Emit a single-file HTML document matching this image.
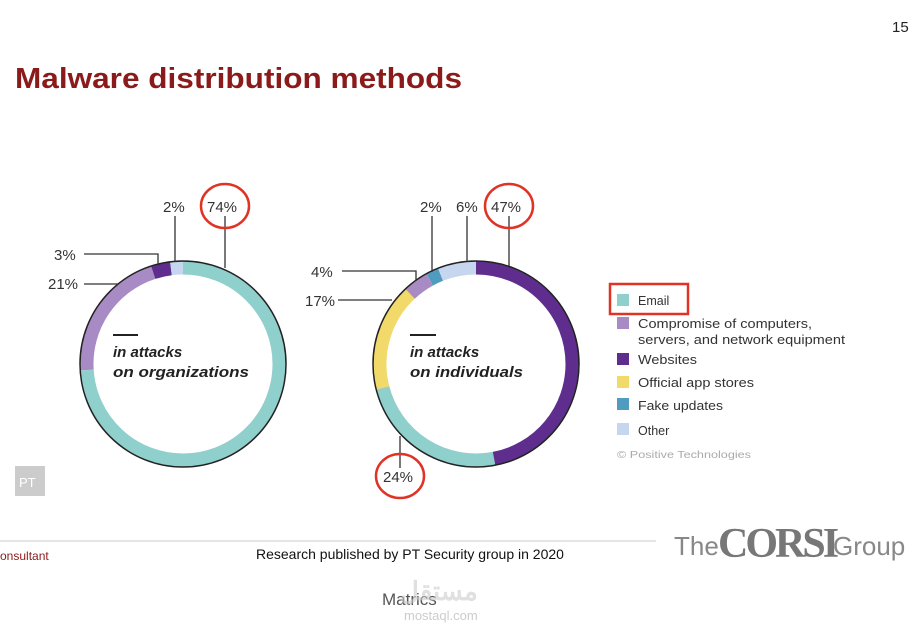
<!DOCTYPE html>
<html><head><meta charset="utf-8"><style>
body{margin:0;width:916px;height:639px;background:#fff;overflow:hidden;font-family:"Liberation Sans",sans-serif;}
</style></head><body>
<svg width="916" height="639" viewBox="0 0 916 639" xmlns="http://www.w3.org/2000/svg" font-family="Liberation Sans, sans-serif">
<text x="892" y="32" font-size="15" fill="#222">15</text>
<text x="15" y="88" font-size="29" font-weight="bold" fill="#8b1a1a" textLength="447" lengthAdjust="spacingAndGlyphs">Malware distribution methods</text>

<!-- org donut -->
<g fill="none" stroke-width="13">
<circle cx="183" cy="364" r="96" stroke="#8fcfcc" stroke-dasharray="446.1 1000" transform="rotate(-90 183 364)"/>
<circle cx="183" cy="364" r="96" stroke="#a88bc4" stroke-dasharray="126.7 1000" transform="rotate(176.4 183 364)"/>
<circle cx="183" cy="364" r="96" stroke="#5e2d8e" stroke-dasharray="18.1 1000" transform="rotate(252 183 364)"/>
<circle cx="183" cy="364" r="96" stroke="#c5d6ee" stroke-dasharray="12.1 1000" transform="rotate(262.8 183 364)"/>
</g>
<circle cx="183" cy="364" r="103" fill="none" stroke="#222" stroke-width="1.5"/>
<!-- ind donut -->
<g fill="none" stroke-width="13">
<circle cx="476" cy="364" r="96" stroke="#5e2d8e" stroke-dasharray="283.5 1000" transform="rotate(-90 476 364)"/>
<circle cx="476" cy="364" r="96" stroke="#8fcfcc" stroke-dasharray="144.8 1000" transform="rotate(79.2 476 364)"/>
<circle cx="476" cy="364" r="96" stroke="#f1d96a" stroke-dasharray="102.6 1000" transform="rotate(165.6 476 364)"/>
<circle cx="476" cy="364" r="96" stroke="#a88bc4" stroke-dasharray="24.1 1000" transform="rotate(226.8 476 364)"/>
<circle cx="476" cy="364" r="96" stroke="#4f9cc0" stroke-dasharray="12.1 1000" transform="rotate(241.2 476 364)"/>
<circle cx="476" cy="364" r="96" stroke="#c5d6ee" stroke-dasharray="36.2 1000" transform="rotate(248.4 476 364)"/>
</g>
<circle cx="476" cy="364" r="103" fill="none" stroke="#222" stroke-width="1.5"/>

<!-- leader lines -->
<g stroke="#333" stroke-width="1.3" fill="none">
<polyline points="225,216 225,268"/>
<polyline points="175,216 175,262"/>
<polyline points="84,254 158,254 158,264"/>
<polyline points="84,284 118,284"/>
<polyline points="509,216 509,266"/>
<polyline points="467,216 467,262"/>
<polyline points="432,216 432,272"/>
<polyline points="342,271 416,271 416,281"/>
<polyline points="338,300 392,300"/>
<polyline points="400,436 400,468"/>
</g>
<g font-size="15" fill="#333">
<text x="163" y="212">2%</text>
<text x="207" y="212">74%</text>
<text x="54" y="260">3%</text>
<text x="48" y="289">21%</text>
<text x="420" y="212">2%</text>
<text x="456" y="212">6%</text>
<text x="491" y="212">47%</text>
<text x="311" y="277">4%</text>
<text x="305" y="306">17%</text>
<text x="383" y="482">24%</text>
</g>
<g fill="none" stroke="#e03326" stroke-width="2.5">
<ellipse cx="225" cy="206" rx="24" ry="22"/>
<ellipse cx="509" cy="206" rx="24" ry="22"/>
<ellipse cx="400" cy="476" rx="24" ry="22"/>
<rect x="610" y="284" width="78" height="30"/>
</g>
<g font-size="15" font-weight="bold" font-style="italic" fill="#222">
<line x1="113" y1="335" x2="138" y2="335" stroke="#222" stroke-width="2"/>
<text x="113" y="357">in attacks</text>
<text x="113" y="377" textLength="136" lengthAdjust="spacingAndGlyphs">on organizations</text>
<line x1="410" y1="335" x2="436" y2="335" stroke="#222" stroke-width="2"/>
<text x="410" y="357">in attacks</text>
<text x="410" y="377" textLength="113" lengthAdjust="spacingAndGlyphs">on individuals</text>
</g>
<!-- legend -->
<g font-size="12.5" fill="#333">
<rect x="617" y="294" width="12" height="12" fill="#8fcfcc"/><text x="638" y="305">Email</text>
<rect x="617" y="317" width="12" height="12" fill="#a88bc4"/><text x="638" y="328" textLength="174" lengthAdjust="spacingAndGlyphs">Compromise of computers,</text>
<text x="638" y="344" textLength="207" lengthAdjust="spacingAndGlyphs">servers, and network equipment</text>
<rect x="617" y="353" width="12" height="12" fill="#5e2d8e"/><text x="638" y="364" textLength="59" lengthAdjust="spacingAndGlyphs">Websites</text>
<rect x="617" y="376" width="12" height="12" fill="#f1d96a"/><text x="638" y="387" textLength="116" lengthAdjust="spacingAndGlyphs">Official app stores</text>
<rect x="617" y="398" width="12" height="12" fill="#4f9cc0"/><text x="638" y="410" textLength="85" lengthAdjust="spacingAndGlyphs">Fake updates</text>
<rect x="617" y="423" width="12" height="12" fill="#c5d6ee"/><text x="638" y="435">Other</text>
<text x="617" y="458" font-size="10.5" fill="#aaa" textLength="134" lengthAdjust="spacingAndGlyphs">© Positive Technologies</text>
</g>
<rect x="15" y="466" width="30" height="30" fill="#ccc"/>
<text x="19" y="487" font-size="13" fill="#fff">PT</text>
<line x1="0" y1="541" x2="656" y2="541" stroke="#ccc" stroke-width="1"/>
<text x="0" y="560" font-size="12" fill="#8b1a1a">onsultant</text>
<text x="256" y="559" font-size="14" fill="#111">Research published by PT Security group in 2020</text>
<text x="674" y="555" font-size="26" fill="#888">The</text>
<text x="718" y="557" font-size="42" font-family="Liberation Serif, serif" font-weight="bold" fill="#777" letter-spacing="-3">CORSI</text>
<text x="833" y="555" font-size="26" fill="#888">Group</text>
<text x="382" y="605" font-size="17" fill="#555">Matrics</text>
<text x="400" y="600" font-size="26" font-weight="bold" fill="#ccc" opacity="0.6">مستقل</text>
<text x="404" y="620" font-size="13" fill="#ccc">mostaql.com</text>
</svg>
</body></html>
